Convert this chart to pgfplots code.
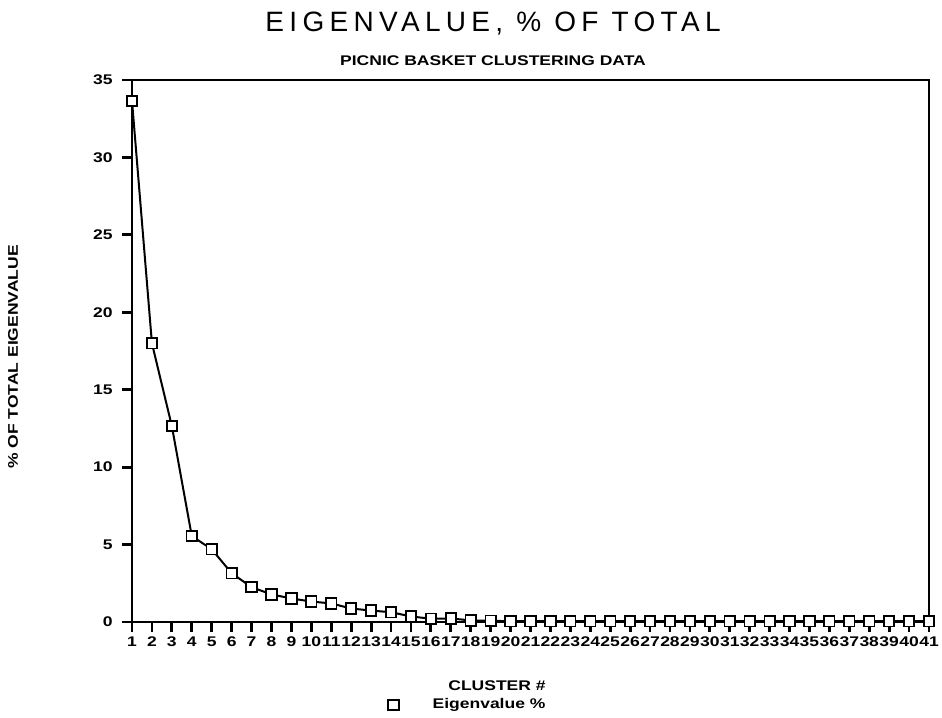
\documentclass[border=0pt]{standalone}
\usepackage{fontspec}
\usepackage{pgfplots}
\pgfplotsset{compat=1.18}
\setmainfont{Liberation Sans}
% wide bold face for labels, ticks and legend
\newfontfamily\plotfont[FakeStretch=1.25]{Liberation Sans Bold}
\newfontfamily\titlefont[LetterSpace=19]{Liberation Sans}
\newcommand\pf{\plotfont\fontsize{7bp}{8bp}\selectfont}

\begin{document}
\begin{tikzpicture}
\begin{axis}[
  at={(66bp,48bp)}, anchor=south west,
  scale only axis, width=398.5bp, height=271bp,
  xmin=1, xmax=41, ymin=0, ymax=35,
  xtick={1,...,41}, ytick={0,5,...,35},
  xtick align=outside, ytick align=outside,
  xtick pos=left, ytick pos=left,
  major tick length=5bp,
  major tick style={draw=black, line width=1.4bp},
  axis line style={line width=1.3bp},
  /pgf/number format/assume math mode=true,
  ticklabel style={font=\pf},
  xticklabel style={inner sep=2bp},
  yticklabel style={inner sep=4.5bp},
  legend style={at={(0.321,-0.153)}, anchor=west, draw=none, fill=none,
    inner sep=0pt, font=\pf},
  legend image code/.code={\draw[line width=0.9bp, mark=square*, mark size=2.6bp,
    mark options={fill=white, solid}] plot coordinates {(2.6bp,0bp)};},
]
\addplot[black, line width=1bp, mark=square*, mark size=2.6bp,
  mark options={fill=white, line width=0.9bp}] coordinates {
  (1,33.65) (2,18.0) (3,12.65) (4,5.55) (5,4.7) (6,3.15) (7,2.25)
  (8,1.78) (9,1.52) (10,1.32) (11,1.2) (12,0.87) (13,0.74) (14,0.63)
  (15,0.36) (16,0.21) (17,0.23) (18,0.1) (19,0.08) (20,0.05) (21,0.05)
  (22,0.05) (23,0.05) (24,0.05) (25,0.05) (26,0.05) (27,0.05) (28,0.05)
  (29,0.05) (30,0.05) (31,0.05) (32,0.05) (33,0.05) (34,0.05) (35,0.05)
  (36,0.05) (37,0.05) (38,0.05) (39,0.05) (40,0.05) (41,0.05)
};
\addlegendentry{\hspace{15bp}Eigenvalue \%}
\end{axis}
% titles and axis labels
\node[anchor=base] at (246.5bp,343bp) {\titlefont\fontsize{14bp}{16bp}\selectfont EIGENVALUE, \% OF TOTAL};
\node[anchor=base] at (246.5bp,326bp) {\pf PICNIC BASKET CLUSTERING DATA};
\node[anchor=base] at (248.5bp,14bp) {\pf CLUSTER \#};
\node[rotate=90] at (6.5bp,180.5bp) {\pf \% OF TOTAL EIGENVALUE};
\pgfresetboundingbox
\path (0,0) rectangle (471bp,359bp);
\end{tikzpicture}
\end{document}
